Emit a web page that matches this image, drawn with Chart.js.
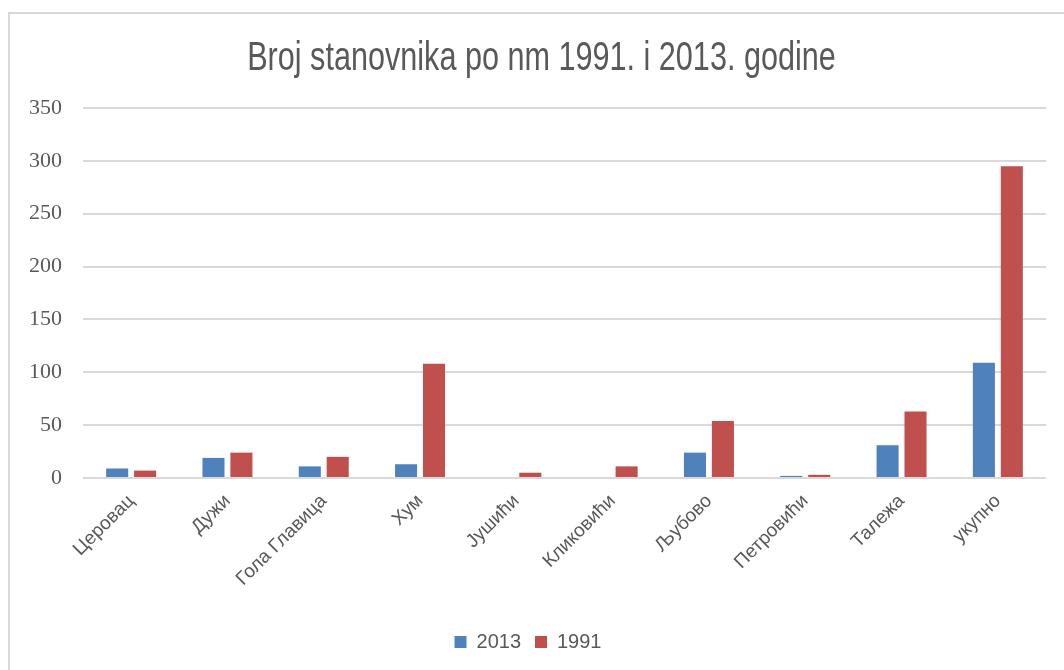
<!DOCTYPE html>
<html>
<head>
<meta charset="utf-8">
<script src="https://cdn.jsdelivr.net/npm/chart.js@4"></script>
<style>
  body { margin: 0; background: #fff; }
  #frame {
    position: absolute;
    left: 8px;
    top: 12px;
    width: 1054px;
    height: 656px;
    border-left: 2px solid #d9d9d9;
    border-top: 2px solid #d9d9d9;
  }
</style>
</head>
<body>
<div id="frame"><canvas id="chart" width="1054" height="656"></canvas></div>
<script>
const canvasElement = document.getElementById("chart");

const chartTitle = "Broj stanovnika po nm 1991. i 2013. godine";
const places = [
  "Церовац", "Дужи", "Гола Главица", "Хум", "Јушићи",
  "Кликовићи", "Љубово", "Петровићи", "Талежа", "укупно",
];
const values2013 = [9, 19, 11, 13, 0, 0, 24, 2, 31, 109];
const values1991 = [7, 24, 20, 108, 5, 11, 54, 3, 63, 295];
const yTicks = [0, 50, 100, 150, 200, 250, 300, 350];

const blue = "#4f81bd";
const red = "#c0504d";
const textGray = "#595959";

// narrow-looking title: no Arial Narrow here, so squeeze Liberation Sans
const narrowTitle = {
  id: "narrowTitle",
  afterDraw: (chart) => {
    const ctx = chart.ctx;
    const area = chart.chartArea;
    ctx.save();
    ctx.fillStyle = textGray;
    ctx.font = "40px 'Liberation Sans', Arial";
    ctx.textAlign = "center";
    ctx.textBaseline = "alphabetic";
    ctx.translate((area.left + area.right) / 2 - 23, 56);
    ctx.scale(0.765, 1);
    ctx.fillText(chartTitle, 0, 0);
    ctx.restore();
  },
};

const config = {
  type: "bar",
  data: {
    labels: places,
    datasets: [
      {
        label: "2013",
        data: values2013,
        backgroundColor: blue,
        categoryPercentage: 0.58,
        barPercentage: 0.79,
      },
      {
        label: "1991",
        data: values1991,
        backgroundColor: red,
        categoryPercentage: 0.58,
        barPercentage: 0.79,
      },
    ],
  },
  options: {
    responsive: false,
    animation: false,
    layout: {
      padding: { left: 0, right: 18, top: 94, bottom: 8 },
    },
    plugins: {
      title: { display: false },
      legend: {
        position: "bottom",
        labels: {
          color: textGray,
          boxWidth: 12,
          boxHeight: 12,
          padding: 14,
          font: { family: "'Liberation Sans', Arial", size: 20 },
        },
      },
      tooltip: { enabled: false },
    },
    scales: {
      x: {
        border: { display: false },
        grid: { display: false },
        ticks: {
          color: textGray,
          minRotation: 45,
          maxRotation: 45,
          padding: 4,
          font: { family: "'Liberation Sans', Arial", size: 19 },
        },
        afterFit: (scale) => {
          scale.height = 140;
        },
      },
      y: {
        min: 0,
        max: 350,
        border: { display: false },
        grid: { color: "#d9d9d9", lineWidth: 2, drawTicks: false },
        afterBuildTicks: (scale) => {
          scale.ticks = yTicks.map((v) => ({ value: v }));
        },
        ticks: {
          color: textGray,
          padding: 21,
          font: { family: "'Liberation Serif', 'Times New Roman'", size: 22 },
        },
        afterFit: (scale) => {
          scale.width = 73;
        },
      },
    },
  },
  plugins: [narrowTitle],
};

const populationChart = new Chart(canvasElement, config);
</script>
</body>
</html>
